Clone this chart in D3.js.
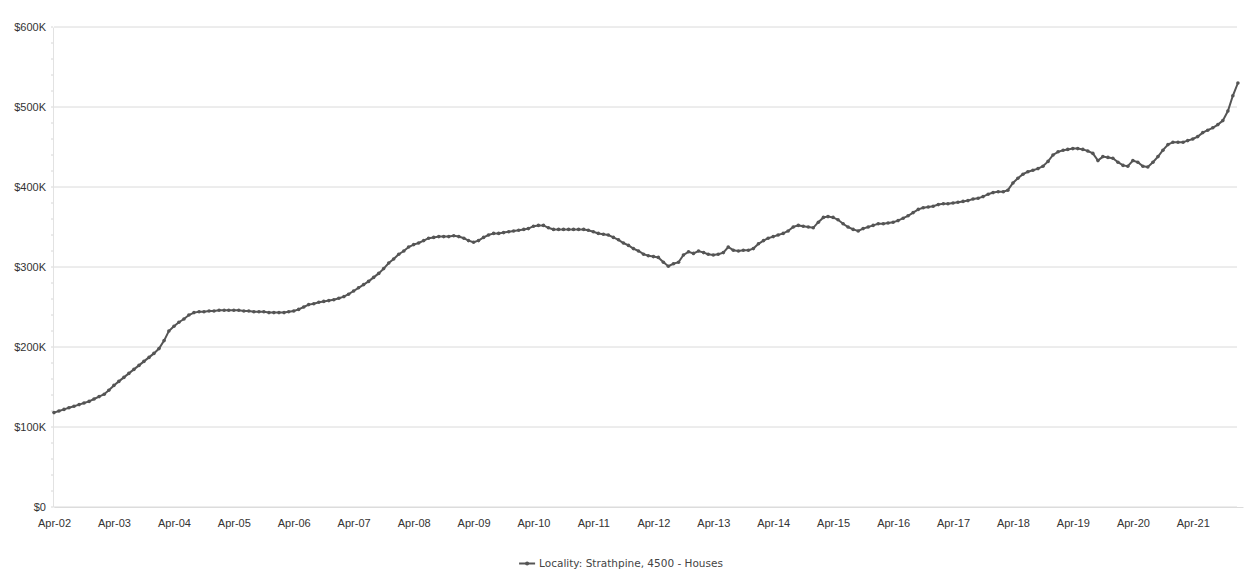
<!DOCTYPE html>
<html>
<head>
<meta charset="utf-8">
<script src="https://cdn.jsdelivr.net/npm/d3@7"></script>
<style>
    html, body { margin: 0; padding: 0; background: #fff; }
    svg { display: block; font-family: "DejaVu Sans", sans-serif; }
</style>
</head>
<body>
<div id="chart"></div>
<script>
// Data
const startMonth = "2002-04";
const seriesName = "Locality: Strathpine, 4500 - Houses";

// monthly median value ($K), Apr 2002 onward
const values = [
    118, 120, 122, 124, 126, 128, 130, 132, 135, 138, 141, 146,
    152, 157, 162, 167, 172, 177, 182, 187, 192, 198, 208, 220,
    226, 231, 235, 240, 243, 244, 244, 245, 245, 246, 246, 246,
    246, 246, 245, 245, 244, 244, 244, 243, 243, 243, 243, 244,
    245, 247, 250, 253, 254, 256, 257, 258, 259, 261, 263, 266,
    270, 274, 278, 282, 287, 292, 298, 305, 310, 316, 320, 325,
    328, 330, 333, 336, 337, 338, 338, 338, 339, 338, 336, 333,
    331, 333, 337, 340, 342, 342, 343, 344, 345, 346, 347, 348,
    351, 352, 352, 349, 347, 347, 347, 347, 347, 347, 347, 346,
    344, 342, 341, 340, 337, 334, 330, 327, 323, 320, 316, 314,
    313, 312, 306, 301, 304, 306, 315, 319, 317, 320, 318, 316,
    315, 316, 318, 325, 321, 320, 321, 321, 323, 329, 333, 336,
    338, 340, 342, 345, 350, 352, 351, 350, 349, 356, 362, 363,
    362, 359, 354, 350, 347, 345, 348, 350, 352, 354, 354, 355,
    356, 358, 361, 364, 368, 372, 374, 375, 376, 378, 379, 379,
    380, 381, 382, 383, 385, 386, 388, 391, 393, 394, 394, 396,
    405, 411, 416, 419, 421, 423, 426, 432, 440, 444, 446, 447,
    448, 448, 447, 445, 442, 433, 438, 437, 436, 431, 427, 426,
    433, 431, 426, 425, 431, 438, 446, 453, 456, 456, 456, 458,
    460, 463, 468, 471, 474, 478, 483, 495, 514, 530
];

const yTicks = [0, 100, 200, 300, 400, 500, 600];
const yTickLabels = ["$0", "$100K", "$200K", "$300K", "$400K", "$500K", "$600K"];
const xTickLabels = ["Apr-02", "Apr-03", "Apr-04", "Apr-05", "Apr-06", "Apr-07", "Apr-08",
    "Apr-09", "Apr-10", "Apr-11", "Apr-12", "Apr-13", "Apr-14", "Apr-15", "Apr-16",
    "Apr-17", "Apr-18", "Apr-19", "Apr-20", "Apr-21"];

// Layout
const width = 1246, height = 573;
const margin = { top: 27, right: 3, bottom: 66, left: 54 };

const parseMonth = d3.timeParse("%Y-%m");
const start = parseMonth(startMonth);
const points = values.map((v, i) => ({ date: d3.timeMonth.offset(start, i), value: v }));
const tickDates = xTickLabels.map((_, i) => d3.timeYear.offset(start, i));

const svg = d3.select("#chart").append("svg")
    .attr("width", width)
    .attr("height", height);

const x = d3.scaleTime()
    .domain([start, d3.timeMonth.offset(start, 238)])
    .range([margin.left, width - margin.right]);

const y = d3.scaleLinear()
    .domain([0, 600])
    .range([height - margin.bottom, margin.top]);

// Gridlines
svg.append("g")
    .selectAll("line")
    .data(yTicks)
    .join("line")
    .attr("x1", margin.left)
    .attr("x2", width - margin.right - 6)
    .attr("y1", d => y(d))
    .attr("y2", d => y(d))
    .attr("stroke", "#dadada")
    .attr("stroke-width", 1);

// Y axis
const yAxis = svg.append("g")
    .attr("transform", `translate(${margin.left - 1},0)`)
    .call(d3.axisLeft(y)
        .tickValues(yTicks)
        .tickFormat((d, i) => yTickLabels[i])
        .tickSize(0)
        .tickPadding(7));
yAxis.select(".domain").attr("stroke", "#e2e2e2");
yAxis.selectAll("text").attr("fill", "#333").style("font-size", "11px");

// minor ticks on y axis
svg.append("g")
    .selectAll("line")
    .data(d3.range(0, 601, 20))
    .join("line")
    .attr("x1", margin.left - 3)
    .attr("x2", margin.left - 1)
    .attr("y1", d => y(d))
    .attr("y2", d => y(d))
    .attr("stroke", "#d6d6d6");

// X axis
const xAxis = svg.append("g")
    .attr("transform", `translate(0,${height - margin.bottom})`)
    .call(d3.axisBottom(x)
        .tickValues(tickDates)
        .tickFormat((d, i) => xTickLabels[i])
        .tickSize(0)
        .tickPadding(12));
xAxis.select(".domain").attr("stroke", "#dcdcdc");
xAxis.selectAll("text").attr("fill", "#333").style("font-size", "11px");

// Line
const line = d3.line()
    .x(d => x(d.date))
    .y(d => y(d.value));

svg.append("path")
    .datum(points)
    .attr("fill", "none")
    .attr("stroke", "#555")
    .attr("stroke-width", 2)
    .attr("d", line);

svg.append("g")
    .selectAll("circle")
    .data(points)
    .join("circle")
    .attr("cx", d => x(d.date))
    .attr("cy", d => y(d.value))
    .attr("r", 1.8)
    .attr("fill", "#555");

// Legend
const legend = svg.append("g")
    .attr("transform", `translate(${width / 2}, ${height - 6})`);

const legendText = legend.append("text")
    .attr("x", 0)
    .attr("y", 0)
    .attr("fill", "#444")
    .style("font-size", "10.5px")
    .text(seriesName);

const lw = legendText.node().getComputedTextLength();
legendText.attr("x", -lw / 2 + 8);

legend.append("line")
    .attr("x1", -lw / 2 - 12)
    .attr("x2", -lw / 2 + 4)
    .attr("y1", -3.5)
    .attr("y2", -3.5)
    .attr("stroke", "#555")
    .attr("stroke-width", 2);
legend.append("circle")
    .attr("cx", -lw / 2 - 4)
    .attr("cy", -3.5)
    .attr("r", 2)
    .attr("fill", "#555");
</script>
</body>
</html>
